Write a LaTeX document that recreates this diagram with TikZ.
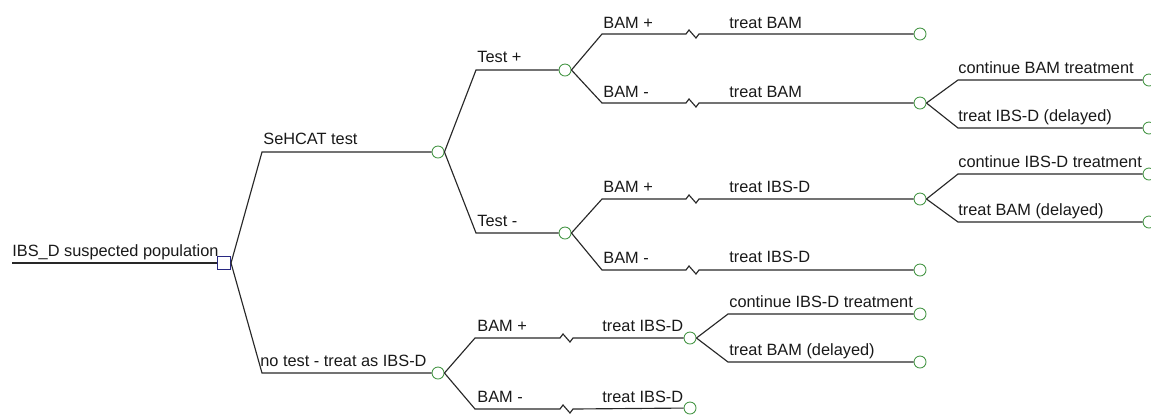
\documentclass[tikz,border=0pt]{standalone}
\usepackage{fontspec}
\setmainfont{Liberation Sans}
\usetikzlibrary{positioning}
\definecolor{chancegreen}{RGB}{70,150,70}
\definecolor{decisionblue}{RGB}{40,40,130}
\definecolor{branchgray}{RGB}{40,40,40}

\tikzset{
chance/.style 	= {circle, draw=chancegreen, fill=white, line width=0.5pt, inner sep=0pt, minimum size=0.24cm},
decision/.style = {rectangle, draw=decisionblue, fill=white, line width=0.6pt, inner sep=0pt, minimum size=0.26cm},
branch/.style 	= {draw=branchgray, line width=0.65pt},
lbl/.style 		= {anchor=base west, inner sep=0pt, text=black!90, font=\fontsize{9.3}{11}\selectfont}
}

\begin{document}
\begin{tikzpicture}[x=0.02cm, y=-0.02cm]
%\draw[help lines] (0,0) grid (1151,414);
\useasboundingbox (0,0) rectangle (1151,414);

% root
\coordinate (in) at (12,263);
\node[decision] (root) at (224,263) {};
\draw[branch] (in) -- (root);
\node[lbl] (l-root) at (12,256) {IBS\_D suspected population};

% test or no test
\coordinate (s-sehcat) at (262,152);
\coordinate (s-notest) at (262,373);
\node[chance] (sehcat) at (438,152) {};
\node[chance] (notest) at (438,373) {};
\draw[branch] (root.east) -- (s-sehcat) -- (sehcat);
\draw[branch] (root.east) -- (s-notest) -- (notest);
\node[lbl] (l-sehcat) at (263,144) {SeHCAT test};
\node[lbl] (l-notest) at (260,366) {no test - treat as IBS-D};

% test result
\coordinate (s-tp) at (476,70);
\coordinate (s-tn) at (476,233);
\node[chance] (tp) at (565,70) {};
\node[chance] (tn) at (565,233) {};
\draw[branch] (sehcat.east) -- (s-tp) -- (tp);
\draw[branch] (sehcat.east) -- (s-tn) -- (tn);
\node[lbl] (l-tp) at (477,62) {Test +};
\node[lbl] (l-tn) at (477,226) {Test -};

% test + : BAM status
\coordinate (s-tp-bp) at (602,34);
\coordinate (s-tp-bn) at (602,103);
\node[chance] (tp-bp) at (920,34) {};
\node[chance] (tp-bn) at (920,103) {};
\draw[branch] (tp.east) -- (s-tp-bp) -- ++(84,0) -- ++(3,-4) -- ++(7,8) -- ++(3,-4) -- (tp-bp);
\draw[branch] (tp.east) -- (s-tp-bn) -- ++(84,0) -- ++(3,-4) -- ++(7,8) -- ++(3,-4) -- (tp-bn);
\node[lbl] (l-tp-bp) at (603,28) {BAM +};
\node[lbl] (r-tp-bp) at (729,28) {treat BAM};
\node[lbl] (l-tp-bn) at (603,97) {BAM -};
\node[lbl] (r-tp-bn) at (729,97) {treat BAM};

\coordinate (s-tp-bn-c) at (958,80);
\coordinate (s-tp-bn-d) at (958,128);
\node[chance] (tp-bn-c) at (1149,80) {};
\node[chance] (tp-bn-d) at (1149,128) {};
\draw[branch] (tp-bn.east) -- (s-tp-bn-c) -- (tp-bn-c);
\draw[branch] (tp-bn.east) -- (s-tp-bn-d) -- (tp-bn-d);
\node[lbl] (l-tp-bn-c) at (958,73) {continue BAM treatment};
\node[lbl] (l-tp-bn-d) at (958,121) {treat IBS-D (delayed)};

% test - : BAM status
\coordinate (s-tn-bp) at (602,199);
\coordinate (s-tn-bn) at (602,270);
\node[chance] (tn-bp) at (920,199) {};
\node[chance] (tn-bn) at (920,270) {};
\draw[branch] (tn.east) -- (s-tn-bp) -- ++(84,0) -- ++(3,-4) -- ++(7,8) -- ++(3,-4) -- (tn-bp);
\draw[branch] (tn.east) -- (s-tn-bn) -- ++(84,0) -- ++(3,-4) -- ++(7,8) -- ++(3,-4) -- (tn-bn);
\node[lbl] (l-tn-bp) at (603,192) {BAM +};
\node[lbl] (r-tn-bp) at (729,192) {treat IBS-D};
\node[lbl] (l-tn-bn) at (603,263) {BAM -};
\node[lbl] (r-tn-bn) at (729,262) {treat IBS-D};

\coordinate (s-tn-bp-c) at (958,174);
\coordinate (s-tn-bp-d) at (958,222);
\node[chance] (tn-bp-c) at (1149,174) {};
\node[chance] (tn-bp-d) at (1149,222) {};
\draw[branch] (tn-bp.east) -- (s-tn-bp-c) -- (tn-bp-c);
\draw[branch] (tn-bp.east) -- (s-tn-bp-d) -- (tn-bp-d);
\node[lbl] (l-tn-bp-c) at (958,167) {continue IBS-D treatment};
\node[lbl] (l-tn-bp-d) at (958,215) {treat BAM (delayed)};

% no test : BAM status
\coordinate (s-nt-bp) at (475,338);
\coordinate (s-nt-bn) at (475,409);
\node[chance] (nt-bp) at (690,338) {};
\node[chance] (nt-bn) at (690,408) {};
\draw[branch] (notest.east) -- (s-nt-bp) -- ++(85,0) -- ++(3,-4) -- ++(7,8) -- ++(3,-4) -- (nt-bp);
\draw[branch] (notest.east) -- (s-nt-bn) -- ++(85,0) -- ++(3,-4) -- ++(7,8) -- ++(3,-4) -- (nt-bn);
\node[lbl] (l-nt-bp) at (477,331) {BAM +};
\node[lbl] (r-nt-bp) at (602,331) {treat IBS-D};
\node[lbl] (l-nt-bn) at (477,402) {BAM -};
\node[lbl] (r-nt-bn) at (602,402) {treat IBS-D};

\coordinate (s-nt-bp-c) at (728,314);
\coordinate (s-nt-bp-d) at (728,362);
\node[chance] (nt-bp-c) at (920,314) {};
\node[chance] (nt-bp-d) at (920,362) {};
\draw[branch] (nt-bp.east) -- (s-nt-bp-c) -- (nt-bp-c);
\draw[branch] (nt-bp.east) -- (s-nt-bp-d) -- (nt-bp-d);
\node[lbl] (l-nt-bp-c) at (729,307) {continue IBS-D treatment};
\node[lbl] (l-nt-bp-d) at (729,355) {treat BAM (delayed)};
\end{tikzpicture}
\end{document}
